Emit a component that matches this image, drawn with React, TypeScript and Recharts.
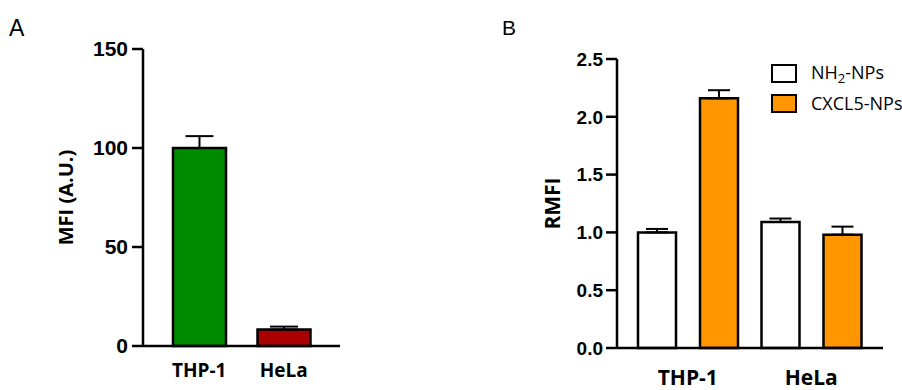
import React from 'react'
import { BarChart, Bar, XAxis, YAxis, ErrorBar, Legend } from 'recharts'

// Panel A: MFI per cell line
const cellLines = ['THP-1', 'HeLa']
const mfiValues = [100, 8.3]
const mfiErrors = [6, 1.5]
const mfiColors = ['#008a00', '#aa0000']
const mfiTicks = [0, 50, 100, 150]

// Panel B: RMFI per cell line and nanoparticle type
const seriesNames = ['NH2-NPs', 'CXCL5-NPs']
const seriesColors = ['#ffffff', '#ff9600']
const nh2Values = [1.0, 1.09]
const nh2Errors = [0.03, 0.03]
const cxcl5Values = [2.16, 0.98]
const cxcl5Errors = [0.07, 0.07]
const rmfiTicks = [0, 0.5, 1, 1.5, 2, 2.5]

const dataA = cellLines.map((name, i) => ({
  name,
  mfi: mfiValues[i],
  mfiErr: [0, mfiErrors[i]],
  fill: mfiColors[i],
}))

const dataB = cellLines.map((name, i) => ({
  name,
  nh2: nh2Values[i],
  nh2Err: [0, nh2Errors[i]],
  cxcl5: cxcl5Values[i],
  cxcl5Err: [0, cxcl5Errors[i]],
}))

const ARIAL = '"Liberation Sans", Arial, sans-serif'
const SANS = '"Open Sans", sans-serif'
const axisStroke = { stroke: '#000', strokeWidth: 2.5 }

const renderName = (name: string) => {
  // show the 2 of NH2 as subscript
  if (name.startsWith('NH2')) {
    return (
      <span>
        NH<sub style={{ fontSize: 13, verticalAlign: -4 }}>2</sub>
        {name.slice(3)}
      </span>
    )
  }
  return <span>{name}</span>
}

const LegendB = () => (
  <div style={{ fontFamily: SANS, fontSize: 18, color: '#000', whiteSpace: 'nowrap' }}>
    {seriesNames.map((n, i) => (
      <div key={n} style={{ display: 'flex', alignItems: 'center', height: 29.5 }}>
        <div
          style={{
            width: 22,
            height: 15,
            border: '2px solid #000',
            background: seriesColors[i],
            marginRight: 14,
            flexShrink: 0,
          }}
        />
        {renderName(n)}
      </div>
    ))}
  </div>
)

export default function App() {
  return (
    <div style={{ position: 'absolute', left: 0, top: 0, width: 902, height: 390, background: '#fff' }}>
      <div style={{ position: 'absolute', left: 9, top: 15, fontFamily: ARIAL, fontSize: 23 }}>A</div>
      <div style={{ position: 'absolute', left: 502, top: 16, fontFamily: ARIAL, fontSize: 21 }}>B</div>

      {/* Panel A */}
      <div style={{ position: 'absolute', left: 0, top: 0 }}>
        <BarChart width={360} height={390} data={dataA} margin={{ top: 49, right: 20, left: 0, bottom: 4 }}>
          <XAxis
            dataKey="name"
            height={40}
            padding={{ left: 14, right: 14 }}
            axisLine={axisStroke}
            tickLine={false}
            tickSize={10}
            tickMargin={8}
            tick={{ fontFamily: SANS, fontSize: 19, fontWeight: 'bold', fill: '#000' }}
          />
          <YAxis
            width={143}
            domain={[0, 150]}
            ticks={mfiTicks}
            axisLine={axisStroke}
            tickLine={axisStroke}
            tickSize={11}
            tickMargin={4}
            tick={{ fontFamily: ARIAL, fontSize: 21, fontWeight: 'bold', fill: '#000' }}
            label={{
              value: 'MFI (A.U.)',
              angle: -90,
              position: 'center',
              dx: -6,
              fill: '#000',
              fontSize: 20,
              fontWeight: 'bold',
              fontFamily: SANS,
            }}
          />
          <Bar dataKey="mfi" barSize={53} stroke="#000" strokeWidth={2.5} isAnimationActive={false}>
            <ErrorBar dataKey="mfiErr" width={14} stroke="#000" strokeWidth={2} direction="y" />
          </Bar>
        </BarChart>
      </div>

      {/* Panel B */}
      <div style={{ position: 'absolute', left: 480, top: 0 }}>
        <BarChart
          width={422}
          height={390}
          data={dataB}
          barGap={24}
          margin={{ top: 59, right: 19, left: 0, bottom: 2 }}
        >
          <XAxis
            dataKey="name"
            height={40}
            padding={{ left: 9, right: 10 }}
            axisLine={axisStroke}
            tickLine={false}
            tickSize={10}
            tickMargin={12}
            tick={{ fontFamily: SANS, fontSize: 21, fontWeight: 'bold', fill: '#000' }}
          />
          <YAxis
            width={137}
            domain={[0, 2.5]}
            ticks={rmfiTicks}
            tickFormatter={(v: number) => v.toFixed(1)}
            axisLine={axisStroke}
            tickLine={axisStroke}
            tickSize={11}
            tickMargin={3}
            tick={{ fontFamily: ARIAL, fontSize: 19, fontWeight: 'bold', fill: '#000' }}
            label={{
              value: 'RMFI',
              angle: -90,
              position: 'center',
              dx: 4,
              fill: '#000',
              fontSize: 21,
              fontWeight: 'bold',
              fontFamily: SANS,
            }}
          />
          <Legend
            layout="vertical"
            align="center"
            verticalAlign="middle"
            content={<LegendB />}
            wrapperStyle={{ left: 291, top: 59, width: 131, height: 60 }}
          />
          <Bar dataKey="nh2" name={seriesNames[0]} fill={seriesColors[0]} barSize={38} stroke="#000" strokeWidth={2.5} isAnimationActive={false}>
            <ErrorBar dataKey="nh2Err" width={11} stroke="#000" strokeWidth={2} direction="y" />
          </Bar>
          <Bar dataKey="cxcl5" name={seriesNames[1]} fill={seriesColors[1]} barSize={38} stroke="#000" strokeWidth={2.5} isAnimationActive={false}>
            <ErrorBar dataKey="cxcl5Err" width={11} stroke="#000" strokeWidth={2} direction="y" />
          </Bar>
        </BarChart>
      </div>
    </div>
  )
}
